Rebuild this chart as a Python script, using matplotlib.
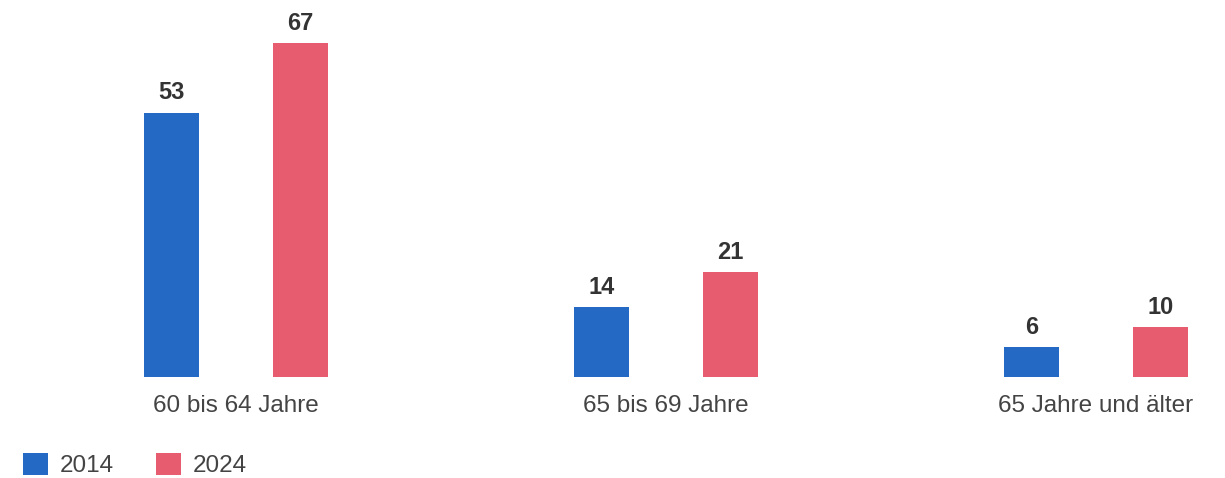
import matplotlib
matplotlib.use("Agg")
import matplotlib.pyplot as plt
from matplotlib.transforms import IdentityTransform
import numpy as np

# Data
categories = ["60 bis 64 Jahre", "65 bis 69 Jahre", "65 Jahre und älter"]
years = ["2014", "2024"]
values_2014 = [53, 14, 6]
values_2024 = [67, 21, 10]

colors = ["#2469C4", "#E85C6F"]

plt.rcParams['font.family'] = ['Liberation Sans', 'DejaVu Sans']

fig = plt.figure(figsize=(12.25, 4.78), dpi=100)
ax = fig.add_axes([0, 101 / 478, 1, 377 / 478])

x = np.arange(len(categories))
width = 0.13
offset = 0.15

bars1 = ax.bar(x - offset, values_2014, width, color=colors[0], label=years[0])
bars2 = ax.bar(x + offset, values_2024, width, color=colors[1], label=years[1])

for bars in (bars1, bars2):
    for b in bars:
        ax.annotate(str(int(b.get_height())),
                    (b.get_x() + b.get_width() / 2, b.get_height()),
                    xytext=(0, 6), textcoords="offset points",
                    ha="center", va="bottom", fontsize=17,
                    fontweight="bold", color="#333333")

ax.set_xlim(-236 / 430, (1225 - 236) / 430)
ax.set_ylim(0, 377 / 4.985)
ax.set_xticks(x)
ax.set_xticklabels(categories, fontsize=17.5, color="#444444")
ax.tick_params(axis="x", length=0, pad=13)
ax.set_yticks([])
for s in ax.spines.values():
    s.set_visible(False)

# legend anchored in figure pixels (bottom-left)
fig.legend(loc="lower left", bbox_to_anchor=(23, 1), bbox_transform=IdentityTransform(),
           ncol=2, frameon=False, fontsize=17.5, borderpad=0, borderaxespad=0,
           handlelength=1.03, handleheight=1.03,
           handletextpad=0.5, columnspacing=1.7, labelcolor="#444444")

fig.savefig("out.png", dpi=100)
